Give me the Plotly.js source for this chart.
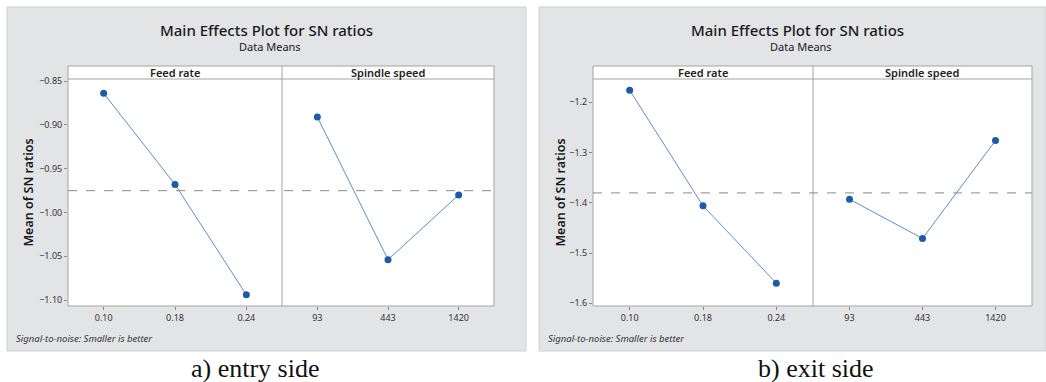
<!DOCTYPE html>
<html>
<head>
<meta charset="utf-8">
<script src="https://cdn.plot.ly/plotly-3.0.1.min.js"></script>
<style>
  html, body { margin: 0; padding: 0; background: #ffffff; }
  #chart { width: 1046px; height: 382px; }
</style>
</head>
<body>
<div id="chart"></div>
<script>
// Factor levels
const feedLevels = ['0.10', '0.18', '0.24'];
const spindleLevels = ['93', '443', '1420'];

// Mean S/N ratios per level, entry side
const entryFeed = [-0.864, -0.968, -1.094];
const entrySpindle = [-0.891, -1.054, -0.980];

// Mean S/N ratios per level, exit side
const exitFeed = [-1.176, -1.406, -1.560];
const exitSpindle = [-1.393, -1.471, -1.276];

// Y tick values
const entryTicks = [-0.85, -0.90, -0.95, -1.00, -1.05, -1.10];
const exitTicks = [-1.2, -1.3, -1.4, -1.5, -1.6];

// Texts
const chartTitle = 'Main Effects Plot for SN ratios';
const chartSubtitle = 'Data Means';
const panelNames = ['Feed rate', 'Spindle speed'];
const yTitle = 'Mean of SN ratios';
const footnote = 'Signal-to-noise: Smaller is better';
const captions = ['a) entry side', 'b) exit side'];

const W = 1046, H = 382;
const px = v => v / W;
const py = v => 1 - v / H;
const mean = a => a.reduce((s, v) => s + v, 0) / a.length;

const FONT = 'Noto Sans, Open Sans, sans-serif';
const lineColor = '#5b8fcc';
const markerColor = '#1d5ba8';

// geometry of the two figures (pixels)
const figs = [
  { box: [7, 526], plot: [68, 282, 494], titleX: 266, yTitleX: 28, footX: 14,
    captionX: 255, yaxis: 'y', xaxes: ['x', 'x2'],
    data: [entryFeed, entrySpindle], ticks: entryTicks, fmt: '.2f',
    range: [-1.1068, -0.8477] },
  { box: [539, 1046], plot: [593, 813, 1032], titleX: 797, yTitleX: 560, footX: 546,
    captionX: 816, yaxis: 'y2', xaxes: ['x3', 'x4'],
    data: [exitFeed, exitSpindle], ticks: exitTicks, fmt: '.1f',
    range: [-1.6054, -1.1536] }
];
const levels = [feedLevels, spindleLevels];
const plotTop = 79, plotBottom = 306, stripTop = 66;

const traces = [];
const shapes = [];
const annotations = [];
const layout = {
  width: W, height: H,
  margin: { l: 0, r: 0, t: 0, b: 0 },
  paper_bgcolor: '#ffffff',
  plot_bgcolor: 'rgba(0,0,0,0)',
  showlegend: false,
  font: { family: FONT, color: '#222222' }
};

figs.forEach((f, fi) => {
  // gray panel
  shapes.push({ type: 'rect', xref: 'paper', yref: 'paper', layer: 'below',
    x0: px(f.box[0]), x1: px(f.box[1]), y0: py(351), y1: py(7),
    fillcolor: '#e3e4e6', line: { color: '#cfd0d2', width: 1 } });
  // white plot area and strip header
  shapes.push({ type: 'rect', xref: 'paper', yref: 'paper', layer: 'below',
    x0: px(f.plot[0]), x1: px(f.plot[2]), y0: py(plotBottom), y1: py(stripTop),
    fillcolor: '#ffffff', line: { color: '#a3a3a3', width: 1 } });
  shapes.push({ type: 'line', xref: 'paper', yref: 'paper', layer: 'below',
    x0: px(f.plot[0]), x1: px(f.plot[2]), y0: py(plotTop), y1: py(plotTop),
    line: { color: '#a3a3a3', width: 1 } });
  shapes.push({ type: 'line', xref: 'paper', yref: 'paper', layer: 'below',
    x0: px(f.plot[1]), x1: px(f.plot[1]), y0: py(plotBottom), y1: py(stripTop),
    line: { color: '#a3a3a3', width: 1 } });
  // overall mean reference line
  const grand = mean(f.data[0].concat(f.data[1]));
  shapes.push({ type: 'line', xref: 'paper', yref: f.yaxis, layer: 'below',
    x0: px(f.plot[0]), x1: px(f.plot[2]), y0: grand, y1: grand,
    line: { color: '#8a8a8a', width: 1, dash: 'dash' } });

  // y axis
  const yKey = f.yaxis === 'y' ? 'yaxis' : 'yaxis2';
  layout[yKey] = {
    domain: [py(plotBottom), py(plotTop)],
    anchor: f.xaxes[0],
    range: f.range,
    tickvals: f.ticks,
    tickformat: f.fmt,
    ticks: 'outside', ticklen: 3, tickcolor: '#8a8a8a',
    showgrid: false, zeroline: false, showline: false,
    tickfont: { size: 9, color: '#333333', family: FONT },
    fixedrange: true
  };

  // two factor panels
  f.xaxes.forEach((ax, pi) => {
    const key = ax === 'x' ? 'xaxis' : 'xaxis' + ax.slice(1);
    layout[key] = {
      domain: [px(f.plot[pi]), px(f.plot[pi + 1])],
      anchor: f.yaxis,
      type: 'category',
      range: [-0.5, 2.5],
      ticks: 'outside', ticklen: 3, tickcolor: '#8a8a8a',
      showgrid: false, zeroline: false, showline: false,
      tickfont: { size: 9, color: '#333333', family: FONT },
      fixedrange: true
    };
    traces.push({
      type: 'scatter', mode: 'lines+markers',
      x: levels[pi], y: f.data[pi],
      xaxis: ax, yaxis: f.yaxis,
      line: { color: lineColor, width: 1 },
      marker: { color: markerColor, size: 7, symbol: 'circle' },
      hoverinfo: 'x+y'
    });
    annotations.push({ xref: 'paper', yref: 'paper', showarrow: false,
      x: px((f.plot[pi] + f.plot[pi + 1]) / 2), y: py(72.5),
      xanchor: 'center', yanchor: 'middle', text: panelNames[pi],
      font: { size: 11, weight: 600, color: '#222222', family: FONT } });
  });

  // titles, axis title, footnote and caption
  annotations.push({ xref: 'paper', yref: 'paper', showarrow: false,
    x: px(f.titleX), y: py(30), xanchor: 'center', yanchor: 'middle',
    text: chartTitle, font: { size: 15, weight: 500, color: '#1a1a1a', family: FONT } });
  annotations.push({ xref: 'paper', yref: 'paper', showarrow: false,
    x: px(f.titleX + 4), y: py(46.5), xanchor: 'center', yanchor: 'middle',
    text: chartSubtitle, font: { size: 11, color: '#1a1a1a', family: FONT } });
  annotations.push({ xref: 'paper', yref: 'paper', showarrow: false,
    x: px(f.yTitleX), y: py((plotTop + plotBottom) / 2), textangle: -90,
    xanchor: 'center', yanchor: 'middle', text: yTitle,
    font: { size: 12.5, weight: 600, color: '#1a1a1a', family: FONT } });
  annotations.push({ xref: 'paper', yref: 'paper', showarrow: false,
    x: px(f.footX), y: py(338), xanchor: 'left', yanchor: 'middle',
    text: footnote, font: { size: 9.5, style: 'italic', color: '#333333', family: FONT } });
  annotations.push({ xref: 'paper', yref: 'paper', showarrow: false,
    x: px(f.captionX), y: py(368), xanchor: 'center', yanchor: 'middle',
    text: captions[fi], font: { size: 26, color: '#111111', family: 'Liberation Serif, Times New Roman, serif' } });
});

layout.shapes = shapes;
layout.annotations = annotations;

Plotly.newPlot('chart', traces, layout, { displayModeBar: false, staticPlot: true });
</script>
</body>
</html>
